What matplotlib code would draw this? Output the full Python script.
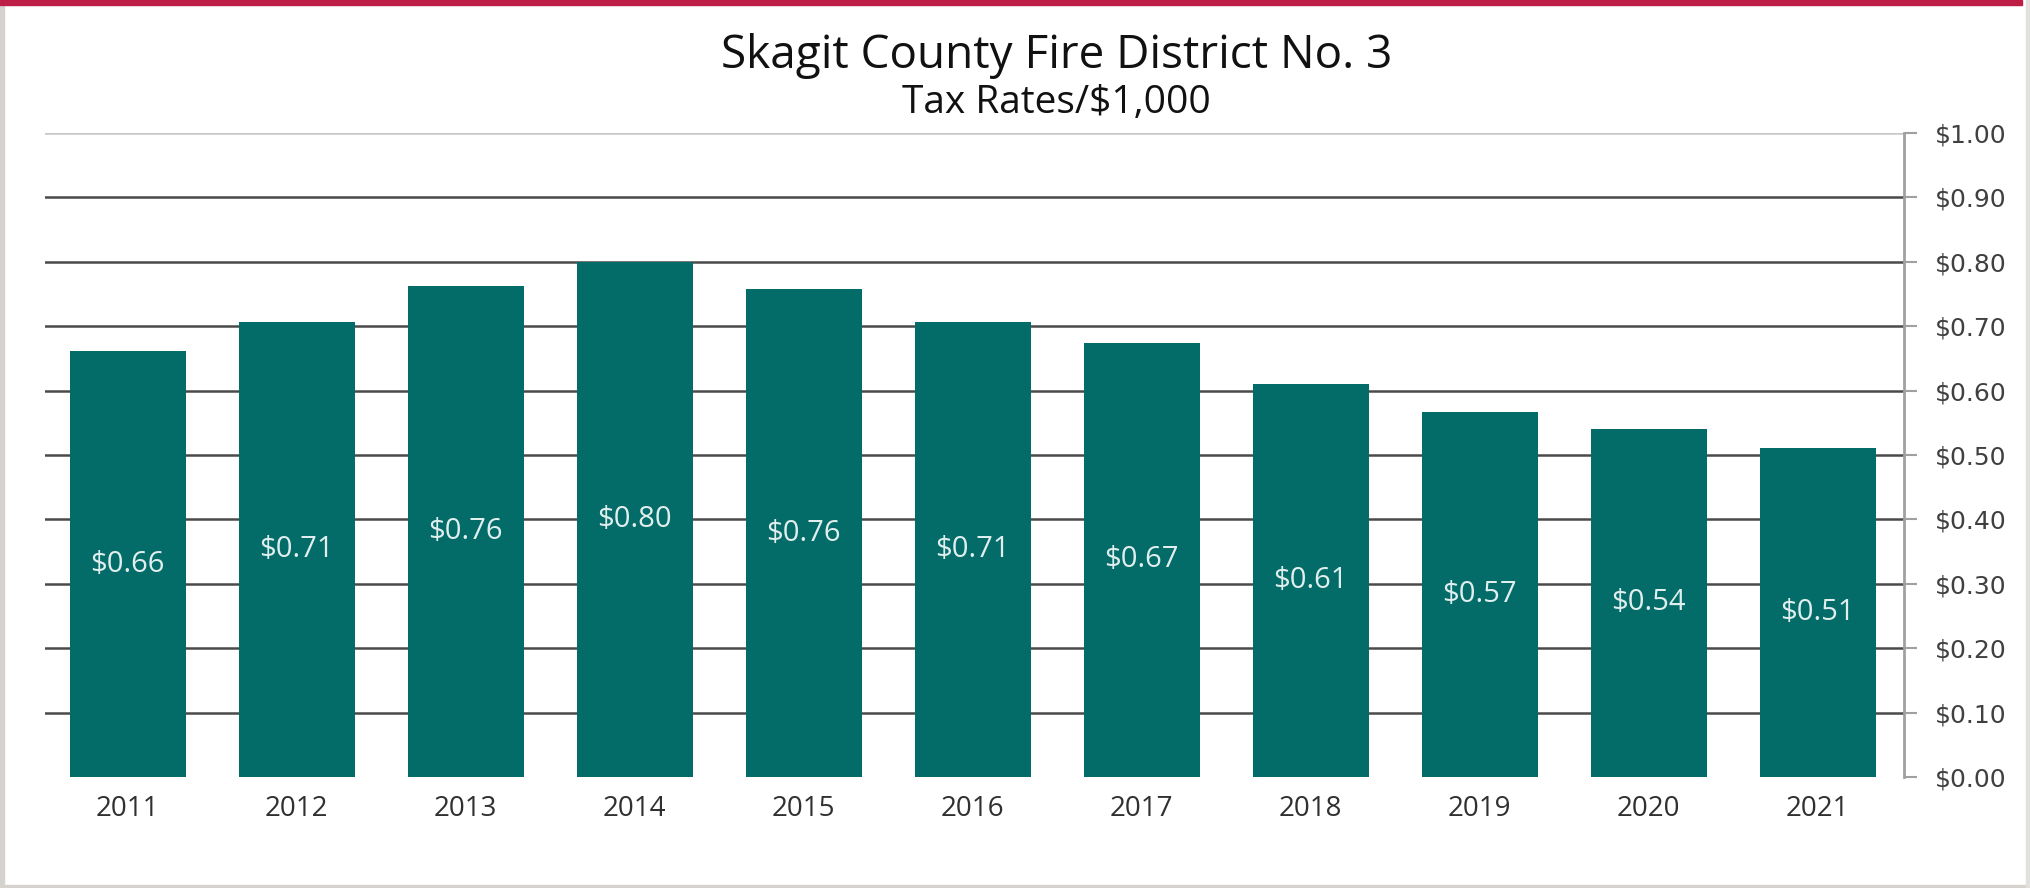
import matplotlib
matplotlib.use('Agg')
import matplotlib.pyplot as plt
from matplotlib.patches import Rectangle
import numpy as np

years = ['2011', '2012', '2013', '2014', '2015', '2016', '2017', '2018', '2019', '2020', '2021']
rates = [0.661, 0.706, 0.762, 0.800, 0.757, 0.706, 0.674, 0.611, 0.567, 0.541, 0.511]
ytick_vals = [0.0, 0.1, 0.2, 0.3, 0.4, 0.5, 0.6, 0.7, 0.8, 0.9, 1.0]

BAR = '#036B68'
W, H = 2031, 888

plt.rcParams['font.family'] = ['Open Sans', 'DejaVu Sans']
fig = plt.figure(figsize=(W / 100, H / 100), dpi=100)
fig.patch.set_facecolor('white')

# frame decorations
fig.patches.append(Rectangle((0, 1 - 5 / H), 2022 / W, 5 / H, transform=fig.transFigure,
                             color='#BE1E45', zorder=5))
fig.patches.append(Rectangle((0, 0), 4 / W, 1, transform=fig.transFigure, color='#D6D3CF', zorder=4))
fig.patches.append(Rectangle((0, 0), 1, 3 / H, transform=fig.transFigure, color='#D6D3CF', zorder=4))
fig.patches.append(Rectangle((1 - 5 / W, 0), 5 / W, 1, transform=fig.transFigure, color='#E2E0DC', zorder=4))

ax = fig.add_axes([45 / W, 1 - 777 / H, (1904 - 45) / W, (777 - 133) / H])
x = np.arange(len(years))
ax.bar(x, rates, width=0.69, color=BAR, zorder=3)

for xi, v in zip(x, rates):
    ax.text(xi, v / 2, f'${v:.2f}', ha='center', va='center', color='#E0EFEE',
            fontsize=21, zorder=4)

ax.set_xlim(-0.49, 10.51)
ax.set_ylim(0, 1.0)

# gridlines
for t in ytick_vals[1:]:
    c = '#C8C8C8' if t == 1.0 else '#4A4A4A'
    ax.axhline(t, color=c, linewidth=1.8, zorder=1)

ax.yaxis.tick_right()
ax.set_yticks(ytick_vals)
ax.set_yticklabels([f'${t:.2f}' for t in ytick_vals], fontsize=18, color='#404040',
                   family='DejaVu Sans')
ax.tick_params(axis='y', direction='out', length=9, width=1.5, color='#A0A0A0', pad=13)
ax.set_xticks(x)
ax.set_xticklabels(years, fontsize=20, color='#303030')
ax.tick_params(axis='x', length=0, pad=13)

for s in ['top', 'left', 'bottom']:
    ax.spines[s].set_visible(False)
ax.spines['right'].set_color('#A0A0A0')
ax.spines['right'].set_linewidth(2)

fig.text(1057 / W, 1 - 56 / H, 'Skagit County Fire District No. 3', ha='center', va='center',
         fontsize=33, color='#111111')
fig.text(1056 / W, 1 - 103 / H, 'Tax Rates/$1,000', ha='center', va='center',
         fontsize=28, color='#111111')

fig.savefig('out.png', dpi=100)
